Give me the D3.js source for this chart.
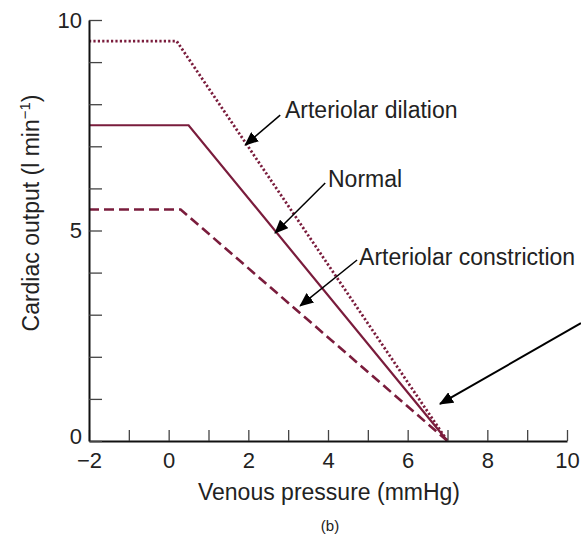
<!DOCTYPE html>
<html>
<head>
<meta charset="utf-8">
<script src="https://cdn.jsdelivr.net/npm/d3@7"></script>
<style>
  body { margin: 0; background: #fff; }
  svg text { font-family: "Liberation Sans", Arial, sans-serif; fill: #222; }
</style>
</head>
<body>
<svg id="chart" width="581" height="538"></svg>
<script>
// curve data (venous pressure in mmHg, cardiac output in l/min)
const dilationX = [-2, 0.2, 7];
const dilationY = [9.5, 9.5, 0];
const normalX = [-2, 0.5, 7];
const normalY = [7.5, 7.5, 0];
const constrictionX = [-2, 0.3, 7];
const constrictionY = [5.5, 5.5, 0];

const xTicks = [-2, -1, 0, 1, 2, 3, 4, 5, 6, 7, 8, 9, 10];
const yTicks = [0, 1, 2, 3, 4, 5, 6, 7, 8, 9, 10];

// annotation labels and their arrows, in data units
const labels = ["Arteriolar dilation", "Normal", "Arteriolar constriction", ""];
const labelX = [2.92, 4.0, 4.78, 0];
const labelY = [7.67, 6.03, 4.18, 0];
const arrowFromX = [2.80, 3.93, 4.73, 10.35];
const arrowFromY = [7.74, 6.13, 4.30, 2.80];
const arrowToX = [1.92, 2.67, 3.30, 6.81];
const arrowToY = [7.03, 4.94, 3.21, 0.88];

const svg = d3.select("#chart");
const margin = {top: 20, left: 89};
const width = 478, height = 421;
const lineColor = "#7a1c3c";

const x = d3.scaleLinear().domain([-2, 10]).range([0, width]);
const y = d3.scaleLinear().domain([0, 10]).range([height, 0]);

const g = svg.append("g").attr("transform", `translate(${margin.left},${margin.top})`);

// arrow head
svg.append("defs").append("marker")
  .attr("id", "head")
  .attr("markerUnits", "userSpaceOnUse")
  .attr("viewBox", "0 0 14 12")
  .attr("refX", 13).attr("refY", 6)
  .attr("markerWidth", 14).attr("markerHeight", 12)
  .attr("orient", "auto")
  .append("path")
  .attr("d", "M0,0 L14,6 L0,12 Z")
  .attr("fill", "#000");

// curves
const curve = d3.line().x(d => x(d[0])).y(d => y(d[1]));
const series = [
  {xs: dilationX, ys: dilationY, dash: "2.2,2.2", w: 2.8},
  {xs: normalX, ys: normalY, dash: null, w: 2.2},
  {xs: constrictionX, ys: constrictionY, dash: "10,5", w: 2.6}
];
series.forEach(s => {
  g.append("path")
    .datum(d3.zip(s.xs, s.ys))
    .attr("d", curve)
    .attr("fill", "none")
    .attr("stroke", lineColor)
    .attr("stroke-width", s.w)
    .attr("stroke-dasharray", s.dash);
});

// axes
const xAxis = g.append("g")
  .attr("transform", `translate(0,${height})`)
  .call(d3.axisBottom(x).tickValues(xTicks).tickSizeInner(-11).tickSizeOuter(0)
    .tickPadding(11).tickFormat(d => d % 2 === 0 ? d3.format("d")(d) : ""));

const yAxis = g.append("g")
  .call(d3.axisLeft(y).tickValues(yTicks).tickSizeInner(-13).tickSizeOuter(0)
    .tickPadding(7).tickFormat(d => d % 5 === 0 ? d : ""));

[xAxis, yAxis].forEach(a => {
  a.select(".domain").attr("stroke", "#111").attr("stroke-width", 2);
  a.selectAll(".tick line").attr("stroke", "#444").attr("stroke-width", 1.3);
  a.selectAll(".tick text").style("font-size", "22px").attr("fill", "#222");
});
// lift the "0" slightly so it clears the x labels
yAxis.selectAll(".tick text").filter(d => d === 0).attr("dy", "0.1em");

// annotations
labels.forEach((t, i) => {
  if (t) {
    g.append("text")
      .attr("x", x(labelX[i]))
      .attr("y", y(labelY[i]))
      .style("font-size", "23px")
      .text(t);
  }
  g.append("line")
    .attr("x1", x(arrowFromX[i])).attr("y1", y(arrowFromY[i]))
    .attr("x2", x(arrowToX[i])).attr("y2", y(arrowToY[i]))
    .attr("stroke", "#000")
    .attr("stroke-width", i === 3 ? 2 : 1.5)
    .attr("marker-end", "url(#head)");
});

// axis titles
svg.append("text")
  .attr("x", margin.left + width / 2 + 1)
  .attr("y", 500)
  .attr("text-anchor", "middle")
  .style("font-size", "23px")
  .text("Venous pressure (mmHg)");

svg.append("text")
  .attr("x", 330)
  .attr("y", 531)
  .attr("text-anchor", "middle")
  .style("font-size", "15px")
  .text("(b)");

const yTitle = svg.append("text")
  .attr("transform", "translate(39,213) rotate(-90)")
  .attr("text-anchor", "middle")
  .style("font-size", "23px");
yTitle.append("tspan").text("Cardiac output (l min");
yTitle.append("tspan").attr("dy", -9).style("font-size", "15px").text("−1");
yTitle.append("tspan").attr("dy", 9).text(")");
</script>
</body>
</html>
